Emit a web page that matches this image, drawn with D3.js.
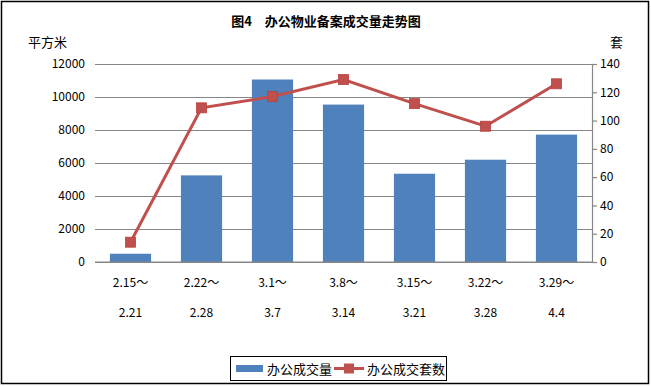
<!DOCTYPE html>
<html>
<head>
<meta charset="utf-8">
<script src="https://cdn.jsdelivr.net/npm/d3@7"></script>
<style>
  body { margin: 0; background: #fff; }
  text { font-family: "Noto Sans CJK SC", "DejaVu Sans", sans-serif; }
</style>
</head>
<body>
<svg id="chart"></svg>
<script>
var periodStart = ["2.15～", "2.22～", "3.1～", "3.8～", "3.15～", "3.22～", "3.29～"]
var periodEnd = ["2.21", "2.28", "3.7", "3.14", "3.21", "3.28", "4.4"]
var areaValues = [500, 5250, 11060, 9540, 5350, 6200, 7720]   // 办公成交量 (平方米)
var unitValues = [14, 109, 117, 129, 112, 96, 126]             // 办公成交套数 (套)
var leftTicks = [0, 2000, 4000, 6000, 8000, 10000, 12000]
var rightTicks = [0, 20, 40, 60, 80, 100, 120, 140]

var W = 651, H = 386
var plot = {left: 95, right: 592, top: 64, bottom: 262}

var svg = d3.select("#chart").attr("width", W).attr("height", H)

// outer frame
svg.append("rect")
  .attr("x", 1.5).attr("y", 1.5)
  .attr("width", W - 4).attr("height", H - 4)
  .attr("fill", "#fff").attr("stroke", "#000").attr("stroke-width", 1.5)

var x = d3.scaleBand()
  .domain(d3.range(periodStart.length))
  .range([plot.left, plot.right])
  .paddingInner(0.42).paddingOuter(0.21)

var yL = d3.scaleLinear().domain([0, 12000]).range([plot.bottom, plot.top])
var yR = d3.scaleLinear().domain([0, 140]).range([plot.bottom, plot.top])

// gridlines + left axis
var gl = svg.append("g").attr("transform", "translate(" + plot.left + ",0)")
  .call(d3.axisLeft(yL).tickValues(leftTicks).tickFormat(d3.format("d"))
    .tickSize(-(plot.right - plot.left)).tickSizeOuter(0).tickPadding(10))
gl.select(".domain").remove()
gl.selectAll(".tick line").attr("stroke", "#868686").attr("stroke-width", 1.2)
gl.selectAll(".tick text").attr("font-size", 12).attr("fill", "#000")

// right axis
var gr = svg.append("g").attr("transform", "translate(" + plot.right + ",0)")
  .call(d3.axisRight(yR).tickValues(rightTicks).tickFormat(d3.format("d"))
    .tickSize(5).tickSizeOuter(0).tickPadding(3))
gr.select(".domain").attr("stroke", "#868686").attr("stroke-width", 1.2)
gr.selectAll(".tick line").attr("stroke", "#868686").attr("stroke-width", 1.2)
gr.selectAll(".tick text").attr("font-size", 12).attr("fill", "#000")

// bars
svg.append("g").selectAll("rect")
  .data(areaValues)
  .join("rect")
  .attr("x", function (d, i) { return x(i) })
  .attr("width", x.bandwidth())
  .attr("y", function (d) { return yL(d) })
  .attr("height", function (d) { return plot.bottom - yL(d) })
  .attr("fill", "#4f81bd")

// baseline
svg.append("line")
  .attr("x1", plot.left).attr("x2", plot.right)
  .attr("y1", plot.bottom).attr("y2", plot.bottom)
  .attr("stroke", "#868686").attr("stroke-width", 1.2)

// line series
var cx = function (i) { return x(i) + x.bandwidth() / 2 }
svg.append("path")
  .datum(unitValues)
  .attr("d", d3.line().x(function (d, i) { return cx(i) }).y(function (d) { return yR(d) }))
  .attr("fill", "none").attr("stroke", "#c0504d").attr("stroke-width", 3)

svg.append("g").selectAll("rect")
  .data(unitValues)
  .join("rect")
  .attr("x", function (d, i) { return cx(i) - 5 })
  .attr("y", function (d) { return yR(d) - 5 })
  .attr("width", 10).attr("height", 10)
  .attr("fill", "#c0504d").attr("stroke", "#b9413e").attr("stroke-width", 0.8)

// category labels, two rows
var xl = svg.append("g")
xl.selectAll(".l1").data(periodStart).join("text")
  .attr("x", function (d, i) { return cx(i) }).attr("y", 287)
  .attr("text-anchor", "middle").attr("font-size", 12).text(function (d) { return d })
xl.selectAll(".l2").data(periodEnd).join("text")
  .attr("class", "l2")
  .attr("x", function (d, i) { return cx(i) }).attr("y", 317)
  .attr("text-anchor", "middle").attr("font-size", 12).text(function (d) { return d })

// titles
svg.append("text").attr("x", 326).attr("y", 26)
  .attr("text-anchor", "middle").attr("font-size", 13).attr("font-weight", "bold")
  .text("图4　办公物业备案成交量走势图")
svg.append("text").attr("x", 28).attr("y", 47).attr("font-size", 13).text("平方米")
svg.append("text").attr("x", 610).attr("y", 47).attr("font-size", 13).text("套")

// legend
var lg = svg.append("g")
lg.append("rect").attr("x", 230.5).attr("y", 356.5).attr("width", 216).attr("height", 24)
  .attr("fill", "#fff").attr("stroke", "#000").attr("stroke-width", 1)
lg.append("rect").attr("x", 236).attr("y", 365).attr("width", 27).attr("height", 7).attr("fill", "#4f81bd")
lg.append("text").attr("x", 267).attr("y", 374).attr("font-size", 13).text("办公成交量")
lg.append("line").attr("x1", 334).attr("x2", 364).attr("y1", 368.5).attr("y2", 368.5)
  .attr("stroke", "#c0504d").attr("stroke-width", 3)
lg.append("rect").attr("x", 344).attr("y", 363.5).attr("width", 10).attr("height", 10).attr("fill", "#c0504d")
lg.append("text").attr("x", 367).attr("y", 374).attr("font-size", 13).text("办公成交套数")
</script>
</body>
</html>
